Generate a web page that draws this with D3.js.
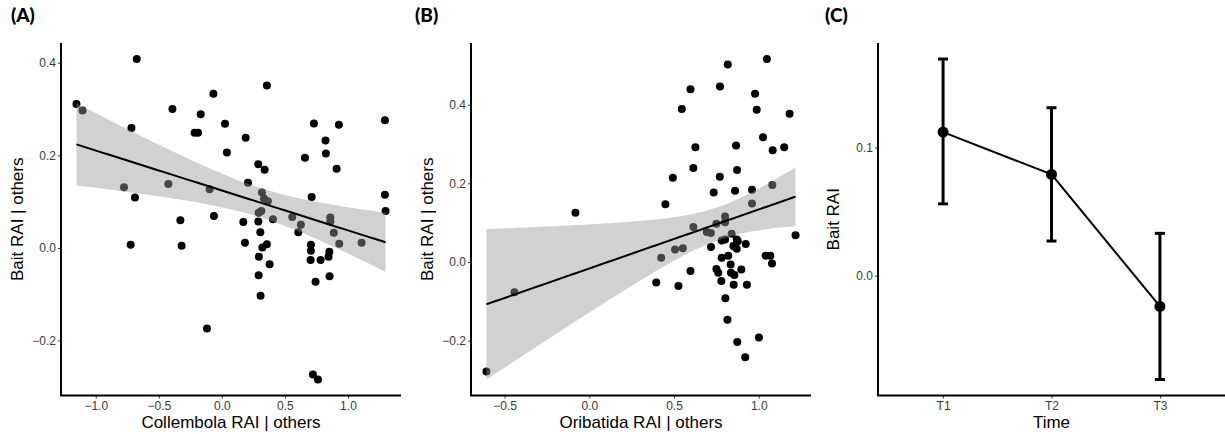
<!DOCTYPE html>
<html>
<head>
<meta charset="utf-8">
<script src="https://cdn.jsdelivr.net/npm/d3@7"></script>
<style>
  body { margin: 0; background: #fff; }
  text { font-family: "Liberation Sans", Arial, sans-serif; }
</style>
</head>
<body>
<div id="vis"></div>
<script>
// panel A: Collembola RAI | others vs Bait RAI | others
const collX = [-1.153, -1.105, -0.675, -0.717, -0.776, -0.689, -0.392, -0.424, -0.067, -0.168,
  -0.216, -0.189, 0.025, 0.040, -0.097, 0.189, 0.357, 0.289, 0.339, 0.207,
  0.318, 0.334, 0.365, 0.292, 0.313, 0.730, 0.928, 0.822, 0.825, 0.659,
  0.910, 0.712, 1.293, 1.293, 1.298, -0.329, -0.063, -0.723, -0.319, 0.170,
  0.183, 0.289, 0.405, 0.305, 0.321, 0.357, 0.294, 0.379, 0.292, 0.307,
  -0.118, 0.558, 0.627, 0.606, 0.860, 0.860, 0.888, 0.931, 1.108, 0.706,
  0.706, 0.704, 0.783, 0.852, 0.846, 0.854, 0.743, 0.722, 0.762];
const collY = [0.311, 0.297, 0.408, 0.259, 0.131, 0.109, 0.300, 0.138, 0.333, 0.289,
  0.249, 0.249, 0.268, 0.206, 0.127, 0.238, 0.351, 0.181, 0.169, 0.141,
  0.120, 0.107, 0.101, 0.076, 0.080, 0.269, 0.266, 0.232, 0.204, 0.195,
  0.171, 0.110, 0.276, 0.115, 0.080, 0.060, 0.069, 0.007, 0.005, 0.056,
  0.011, 0.057, 0.062, 0.034, 0.001, 0.008, -0.019, -0.035, -0.059, -0.103,
  -0.174, 0.067, 0.050, 0.034, 0.066, 0.057, 0.033, 0.009, 0.011, 0.007,
  -0.006, -0.026, -0.026, -0.008, -0.019, -0.061, -0.073, -0.273, -0.284];

// panel B: Oribatida RAI | others vs Bait RAI | others
const oribX = [1.048, 0.817, 0.597, 0.771, 0.978, 0.546, 0.988, 1.182, 1.025, 0.626,
  0.866, 1.082, 1.150, 0.614, 0.872, 0.493, 0.770, 0.734, 0.860, 0.960,
  1.080, 0.449, 0.960, -0.082, 0.801, 0.801, 0.750, 0.614, 0.693, 0.717,
  0.840, 0.781, 0.801, 0.870, 0.876, 0.923, 0.850, 0.870, 0.718, 1.217,
  0.424, 0.506, 0.552, -0.442, -0.607, 0.781, 0.820, 0.834, 1.040, 1.068,
  1.078, 0.597, 0.750, 0.761, 0.836, 0.856, 0.897, 0.395, 0.526, 0.779,
  0.852, 0.930, 0.803, 0.815, 0.873, 1.001, 0.920];
const oribY = [0.516, 0.502, 0.439, 0.446, 0.428, 0.389, 0.387, 0.377, 0.317, 0.292,
  0.296, 0.284, 0.292, 0.239, 0.234, 0.214, 0.217, 0.177, 0.181, 0.184,
  0.196, 0.147, 0.149, 0.125, 0.116, 0.101, 0.097, 0.089, 0.076, 0.074,
  0.072, 0.055, 0.057, 0.057, 0.053, 0.046, 0.041, 0.034, 0.038, 0.068,
  0.011, 0.032, 0.035, -0.077, -0.278, 0.011, 0.016, -0.006, 0.016, 0.016,
  -0.004, -0.023, -0.018, -0.027, -0.027, -0.033, -0.019, -0.052, -0.061, -0.048,
  -0.058, -0.058, -0.092, -0.147, -0.203, -0.192, -0.242];

// panel C: bait RAI by time, mean with error bars
const times = ["T1", "T2", "T3"];
const baitMean = [0.112, 0.079, -0.024];
const baitLow = [0.056, 0.027, -0.081];
const baitHigh = [0.169, 0.131, 0.033];

const tCrit = 1.996; // qt(0.975, df) for the lm confidence band

const W = 1225, H = 434;
const plotTop = 43, plotBottom = 395.5;

const svg = d3.select("#vis").append("svg")
    .attr("width", W)
    .attr("height", H);

// ordinary least squares + 95% band, same as geom_smooth(method = "lm")
function lmBand(xs, ys) {
    const n = xs.length;
    const mx = d3.mean(xs), my = d3.mean(ys);
    let sxx = 0, sxy = 0;
    for (let i = 0; i < n; i++) {
        sxx += (xs[i] - mx) * (xs[i] - mx);
        sxy += (xs[i] - mx) * (ys[i] - my);
    }
    const b = sxy / sxx, a = my - b * mx;
    let sse = 0;
    for (let i = 0; i < n; i++) {
        const r = ys[i] - (a + b * xs[i]);
        sse += r * r;
    }
    const s = Math.sqrt(sse / (n - 2));
    const [x0, x1] = d3.extent(xs);
    return d3.range(80).map(i => {
        const x = x0 + (x1 - x0) * i / 79;
        const fit = a + b * x;
        const se = s * Math.sqrt(1 / n + (x - mx) * (x - mx) / sxx);
        return { x: x, fit: fit, lo: fit - tCrit * se, hi: fit + tCrit * se };
    });
}

function expand(ext, f) {
    const d = (ext[1] - ext[0]) * f;
    return [ext[0] - d, ext[1] + d];
}

function styleAxis(g) {
    g.select(".domain").remove();
    g.selectAll(".tick line").attr("stroke", "#333");
    g.selectAll(".tick text")
        .attr("fill", "#3a3a3a")
        .style("font-size", "12px")
        .style("font-family", "'Liberation Sans', Arial, sans-serif");
}

function axisLines(left, right) {
    svg.append("path")
        .attr("d", "M" + left + "," + plotTop + "V" + plotBottom + "H" + right)
        .attr("fill", "none")
        .attr("stroke", "#000")
        .attr("stroke-width", 2);
}

function panelLabel(x, label) {
    svg.append("text")
        .attr("x", x)
        .attr("y", 22)
        .style("font-family", "Lato, 'Open Sans', sans-serif")
        .style("font-weight", "900")
        .style("font-size", "19px")
        .text(label);
}

function titles(left, right, xTitle, yTitle, yx) {
    svg.append("text")
        .attr("x", (left + right) / 2)
        .attr("y", 428)
        .attr("text-anchor", "middle")
        .style("font-size", "17px")
        .text(xTitle);
    svg.append("text")
        .attr("transform", "translate(" + yx + "," + ((plotTop + plotBottom) / 2) + ") rotate(-90)")
        .attr("text-anchor", "middle")
        .style("font-size", "17px")
        .text(yTitle);
}

function scatterPanel(xs, ys, left, right, xTicks, yTicks, xTitle, yx) {
    const band = lmBand(xs, ys);
    const x = d3.scaleLinear()
        .domain(expand(d3.extent(xs), 0.05))
        .range([left, right]);
    const yExt = d3.extent(ys.concat(band.map(d => d.lo), band.map(d => d.hi)));
    const y = d3.scaleLinear()
        .domain(expand(yExt, 0.05))
        .range([plotBottom, plotTop]);

    const g = svg.append("g");

    g.selectAll("circle")
        .data(xs.map((v, i) => [v, ys[i]]))
        .enter().append("circle")
        .attr("cx", d => x(d[0]))
        .attr("cy", d => y(d[1]))
        .attr("r", 4)
        .attr("fill", "#000");

    g.append("path")
        .datum(band)
        .attr("fill", "#999999")
        .attr("fill-opacity", 0.45)
        .attr("d", d3.area().x(d => x(d.x)).y0(d => y(d.lo)).y1(d => y(d.hi)));

    g.append("path")
        .datum(band)
        .attr("fill", "none")
        .attr("stroke", "#000")
        .attr("stroke-width", 2)
        .attr("d", d3.line().x(d => x(d.x)).y(d => y(d.fit)));

    svg.append("g")
        .attr("transform", "translate(" + left + ",0)")
        .call(d3.axisLeft(y).tickValues(yTicks).tickFormat(d3.format(".1f")).tickSize(3).tickPadding(2))
        .call(styleAxis);
    svg.append("g")
        .attr("transform", "translate(0," + plotBottom + ")")
        .call(d3.axisBottom(x).tickValues(xTicks).tickFormat(d3.format(".1f")).tickSize(3).tickPadding(3))
        .call(styleAxis);

    axisLines(left, right);
    titles(left, right, xTitle, "Bait RAI | others", yx);
}

// (A)
scatterPanel(collX, collY, 61, 401, [-1.0, -0.5, 0.0, 0.5, 1.0], [-0.2, 0.0, 0.2, 0.4],
    "Collembola RAI | others", 23);
panelLabel(11, "(A)");

// (B)
scatterPanel(oribX, oribY, 471, 811, [-0.5, 0.0, 0.5, 1.0], [-0.2, 0.0, 0.2, 0.4],
    "Oribatida RAI | others", 433);
panelLabel(415, "(B)");

// (C)
(function() {
    const left = 878, right = 1225;
    const x = d3.scalePoint()
        .domain(times)
        .range([left, right])
        .padding(0.6);
    const y = d3.scaleLinear()
        .domain(expand([d3.min(baitLow), d3.max(baitHigh)], 0.05))
        .range([plotBottom, plotTop]);

    const rows = times.map((t, i) => ({ t: t, m: baitMean[i], lo: baitLow[i], hi: baitHigh[i] }));

    svg.append("path")
        .datum(rows)
        .attr("fill", "none")
        .attr("stroke", "#000")
        .attr("stroke-width", 2)
        .attr("d", d3.line().x(d => x(d.t)).y(d => y(d.m)));

    const eb = svg.append("g").selectAll("g")
        .data(rows)
        .enter().append("g")
        .attr("stroke", "#000")
        .attr("stroke-width", 3);
    eb.append("line")
        .attr("x1", d => x(d.t)).attr("x2", d => x(d.t))
        .attr("y1", d => y(d.lo)).attr("y2", d => y(d.hi));
    eb.append("line")
        .attr("x1", d => x(d.t) - 5).attr("x2", d => x(d.t) + 5)
        .attr("y1", d => y(d.lo)).attr("y2", d => y(d.lo));
    eb.append("line")
        .attr("x1", d => x(d.t) - 5).attr("x2", d => x(d.t) + 5)
        .attr("y1", d => y(d.hi)).attr("y2", d => y(d.hi));

    svg.append("g").selectAll("circle")
        .data(rows)
        .enter().append("circle")
        .attr("cx", d => x(d.t))
        .attr("cy", d => y(d.m))
        .attr("r", 5.5)
        .attr("fill", "#000");

    svg.append("g")
        .attr("transform", "translate(" + left + ",0)")
        .call(d3.axisLeft(y).tickValues([0.0, 0.1]).tickFormat(d3.format(".1f")).tickSize(3).tickPadding(2))
        .call(styleAxis);
    svg.append("g")
        .attr("transform", "translate(0," + plotBottom + ")")
        .call(d3.axisBottom(x).tickSize(3).tickPadding(3))
        .call(styleAxis);

    axisLines(left, right);
    titles(left, right, "Time", "Bait RAI", 839);
    panelLabel(825, "(C)");
})();
</script>
</body>
</html>
